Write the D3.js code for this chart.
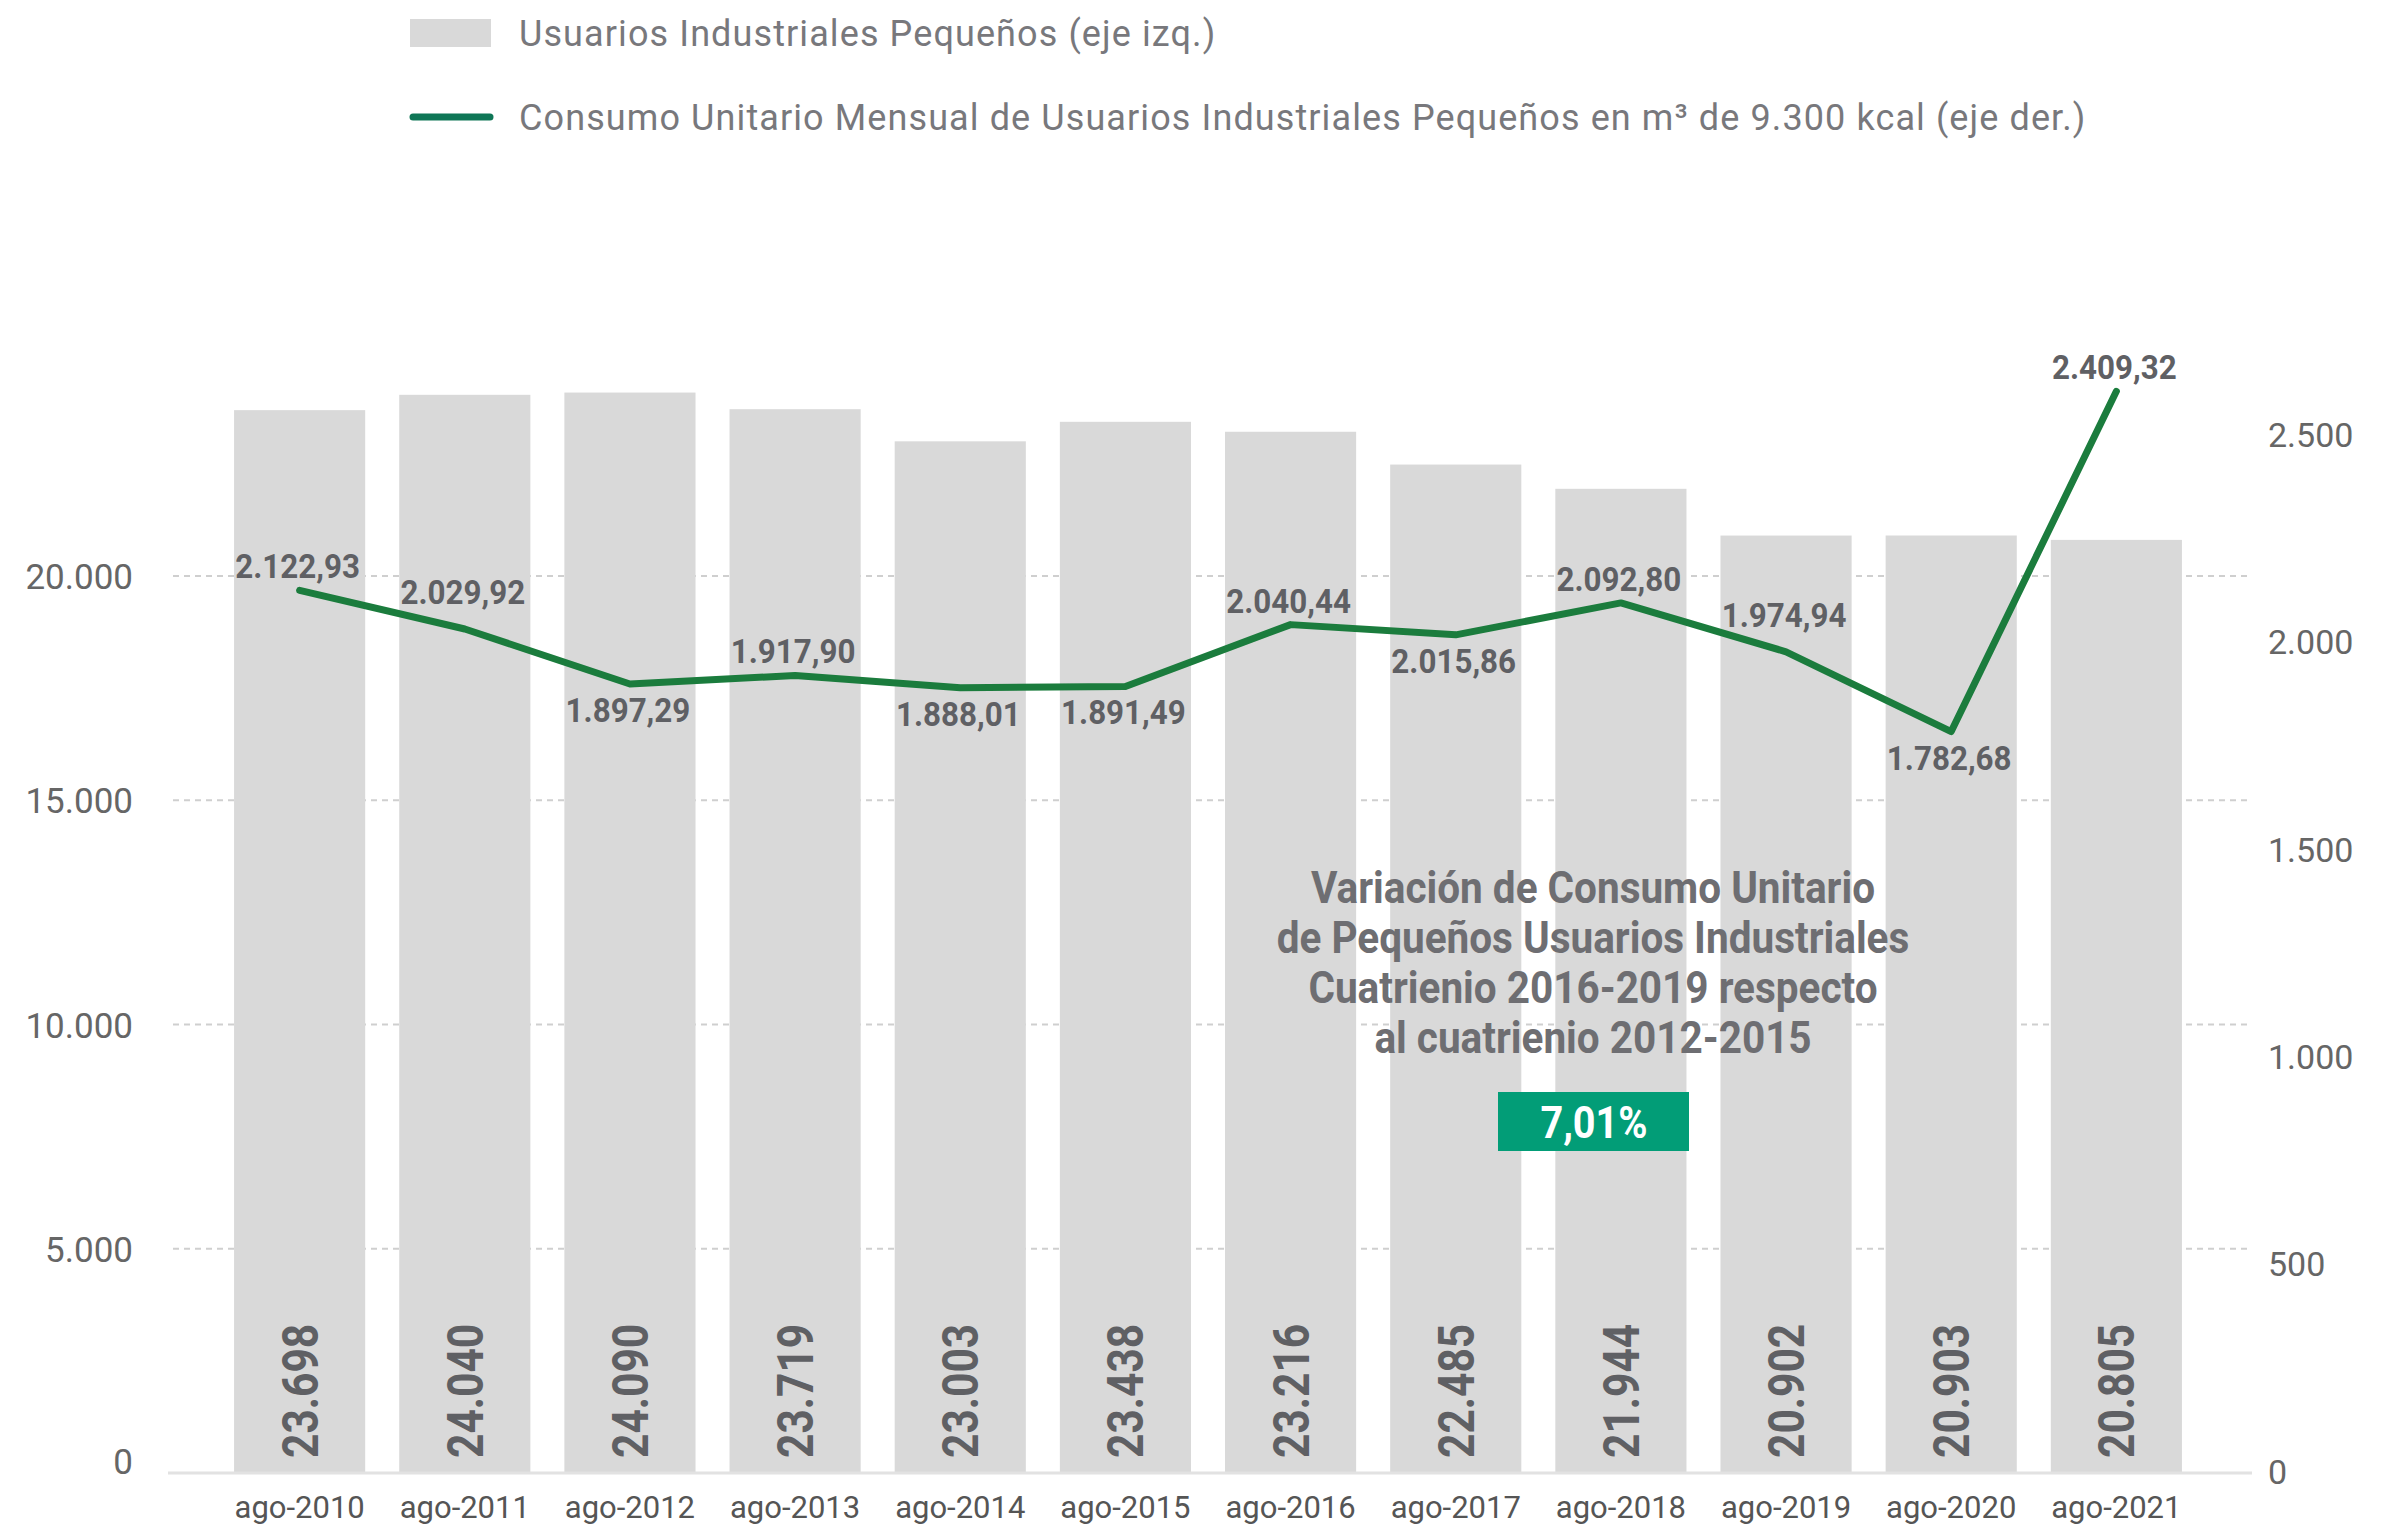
<!DOCTYPE html>
<html>
<head>
<meta charset="utf-8">
<script src="https://cdn.jsdelivr.net/npm/d3@7"></script>
<style>
  body { margin: 0; background: #fff; }
  svg { display: block; font-family: Roboto, "Open Sans", sans-serif; }
</style>
</head>
<body>
<div class="chart"></div>
<script>
// periodos (eje x)
const periodos = ["ago-2010", "ago-2011", "ago-2012", "ago-2013", "ago-2014", "ago-2015",
  "ago-2016", "ago-2017", "ago-2018", "ago-2019", "ago-2020", "ago-2021"];

// Usuarios Industriales Pequeños (eje izq.)
const usuarios = [23698, 24040, 24090, 23719, 23003, 23438, 23216, 22485, 21944, 20902, 20903, 20805];

// Consumo unitario mensual (eje der.) - position
// (the last point is drawn near 2.600 in the original even though its label says 2.409,32)
const consumoUnitario = [2122.93, 2029.92, 1897.29, 1917.90, 1888.01, 1891.49,
  2040.44, 2015.86, 2092.80, 1974.94, 1782.68, 2603];

// labels as printed on the chart
const etiquetasConsumo = ["2.122,93", "2.029,92", "1.897,29", "1.917,90", "1.888,01", "1.891,49",
  "2.040,44", "2.015,86", "2.092,80", "1.974,94", "1.782,68", "2.409,32"];
const ladoEtiqueta = ["arriba", "arriba2", "abajo", "arriba", "abajo", "abajo",
  "arriba", "abajo", "arriba", "arriba2", "abajo", "arriba"];

const ticksIzq = [0, 5000, 10000, 15000, 20000];
const ticksDer = [0, 500, 1000, 1500, 2000, 2500];

const nota = ["Variación de Consumo Unitario", "de Pequeños Usuarios Industriales",
  "Cuatrienio 2016-2019 respecto", "al cuatrienio 2012-2015"];
const variacion = "7,01%";

const W = 2397, H = 1526;
const loc = d3.formatLocale({ decimal: ",", thousands: ".", grouping: [3], currency: ["$", ""] });
const fmtInt = loc.format(",d");

const greyBar = "#d9d9d9";
const lineColor = "#1b7c3d";
const labelColor = "#5f6064";

// squeeze text horizontally (no condensed font available offline)
function squeeze(sel, k) {
  sel.each(function() {
    const w = this.getComputedTextLength();
    d3.select(this).attr("textLength", w * k).attr("lengthAdjust", "spacingAndGlyphs");
  });
}

const svg = d3.select(".chart").append("svg")
  .attr("width", W).attr("height", H);

const x = d3.scaleBand()
  .domain(periodos)
  .range([168, 2248])
  .paddingInner(0.206)
  .paddingOuter(0.4);

const yIzq = d3.scaleLinear().domain([0, 20000]).range([1473, 576]);
const yDer = d3.scaleLinear().domain([0, 2500]).range([1471, 434]);

// gridlines
svg.append("g").selectAll("line")
  .data(ticksIzq.filter(d => d > 0))
  .join("line")
  .attr("x1", 173).attr("x2", 2252)
  .attr("y1", d => yIzq(d)).attr("y2", d => yIzq(d))
  .attr("stroke", "#cfcfcf")
  .attr("stroke-width", 2)
  .attr("stroke-dasharray", "6,5");

// bars
svg.append("g").selectAll("rect")
  .data(usuarios)
  .join("rect")
  .attr("x", (d, i) => x(periodos[i]))
  .attr("width", x.bandwidth())
  .attr("y", d => yIzq(d))
  .attr("height", d => yIzq(0) - yIzq(d))
  .attr("fill", greyBar);

// baseline
svg.append("line")
  .attr("x1", 168).attr("x2", 2252)
  .attr("y1", yIzq(0)).attr("y2", yIzq(0))
  .attr("stroke", "#e2e2e2")
  .attr("stroke-width", 3);

// bar value labels (rotated)
const barLabels = svg.append("g").selectAll("text")
  .data(usuarios)
  .join("text")
  .attr("transform", (d, i) => `translate(${x(periodos[i]) + x.bandwidth() / 2 + 18},${yIzq(0) - 15}) rotate(-90)`)
  .attr("text-anchor", "start")
  .attr("font-size", 50)
  .attr("font-weight", 700)
  .attr("fill", labelColor)
  .text(d => fmtInt(d));
squeeze(barLabels, 0.85);

// left axis
const axIzq = svg.append("g")
  .attr("transform", "translate(140,0)")
  .call(d3.axisLeft(yIzq).tickValues(ticksIzq).tickFormat(fmtInt).tickSize(0).tickPadding(7));
axIzq.select(".domain").remove();
axIzq.selectAll("text")
  .attr("font-size", 35)
  .attr("font-family", "Roboto")
  .attr("fill", "#666")
  .attr("dy", d => d === 0 ? "0.0em" : "0.36em");

// right axis
const axDer = svg.append("g")
  .attr("transform", "translate(2268,0)")
  .call(d3.axisRight(yDer).tickValues(ticksDer).tickFormat(fmtInt).tickSize(0).tickPadding(0));
axDer.select(".domain").remove();
axDer.selectAll("text")
  .attr("font-size", 34)
  .attr("font-family", "Roboto")
  .attr("fill", "#666")
  .attr("dy", "0.36em");

// x axis
const axX = svg.append("g")
  .attr("transform", `translate(0,${yIzq(0)})`)
  .call(d3.axisBottom(x).tickSize(0).tickPadding(23));
axX.select(".domain").remove();
axX.selectAll("text")
  .attr("font-size", 31)
  .attr("font-family", "Roboto")
  .attr("fill", "#555");

// consumo line
const line = d3.line()
  .x((d, i) => x(periodos[i]) + x.bandwidth() / 2)
  .y(d => yDer(d));

svg.append("path")
  .datum(consumoUnitario)
  .attr("d", line)
  .attr("fill", "none")
  .attr("stroke", lineColor)
  .attr("stroke-width", 7)
  .attr("stroke-linecap", "round")
  .attr("stroke-linejoin", "round");

const offsetEtiqueta = { arriba: -12, arriba2: -25, abajo: 38 };
const lineLabels = svg.append("g").selectAll("text")
  .data(consumoUnitario)
  .join("text")
  .attr("x", (d, i) => x(periodos[i]) + x.bandwidth() / 2 - 2)
  .attr("y", (d, i) => yDer(d) + offsetEtiqueta[ladoEtiqueta[i]])
  .attr("text-anchor", "middle")
  .attr("font-size", 33)
  .attr("font-weight", 700)
  .attr("fill", labelColor)
  .text((d, i) => etiquetasConsumo[i]);
squeeze(lineLabels, 0.95);

// annotation
const notaText = svg.append("g").selectAll("text")
  .data(nota)
  .join("text")
  .attr("x", 1593)
  .attr("y", (d, i) => 903 + i * 50)
  .attr("text-anchor", "middle")
  .attr("font-size", 45)
  .attr("font-weight", 700)
  .attr("fill", "#6e6e72")
  .text(d => d);
squeeze(notaText, 0.9);

svg.append("rect")
  .attr("x", 1498).attr("y", 1092)
  .attr("width", 191).attr("height", 59)
  .attr("fill", "#029d77");
const pct = svg.append("text")
  .attr("x", 1594).attr("y", 1138)
  .attr("text-anchor", "middle")
  .attr("font-size", 44)
  .attr("font-weight", 700)
  .attr("fill", "#fff")
  .text(variacion);
squeeze(pct, 0.9);

// legend
const legend = svg.append("g");
legend.append("rect")
  .attr("x", 410).attr("y", 19)
  .attr("width", 81).attr("height", 28)
  .attr("fill", greyBar);
legend.append("line")
  .attr("x1", 413).attr("x2", 490)
  .attr("y1", 117).attr("y2", 117)
  .attr("stroke", "#0f7656")
  .attr("stroke-width", 7)
  .attr("stroke-linecap", "round");
legend.selectAll("text")
  .data(["Usuarios Industriales Pequeños (eje izq.)",
    "Consumo Unitario Mensual de Usuarios Industriales Pequeños en m³ de 9.300 kcal (eje der.)"])
  .join("text")
  .attr("x", 519)
  .attr("y", (d, i) => i === 0 ? 46 : 130)
  .attr("font-size", 36)
  .attr("letter-spacing", 1.1)
  .attr("fill", "#78787c")
  .text(d => d);
</script>
</body>
</html>
